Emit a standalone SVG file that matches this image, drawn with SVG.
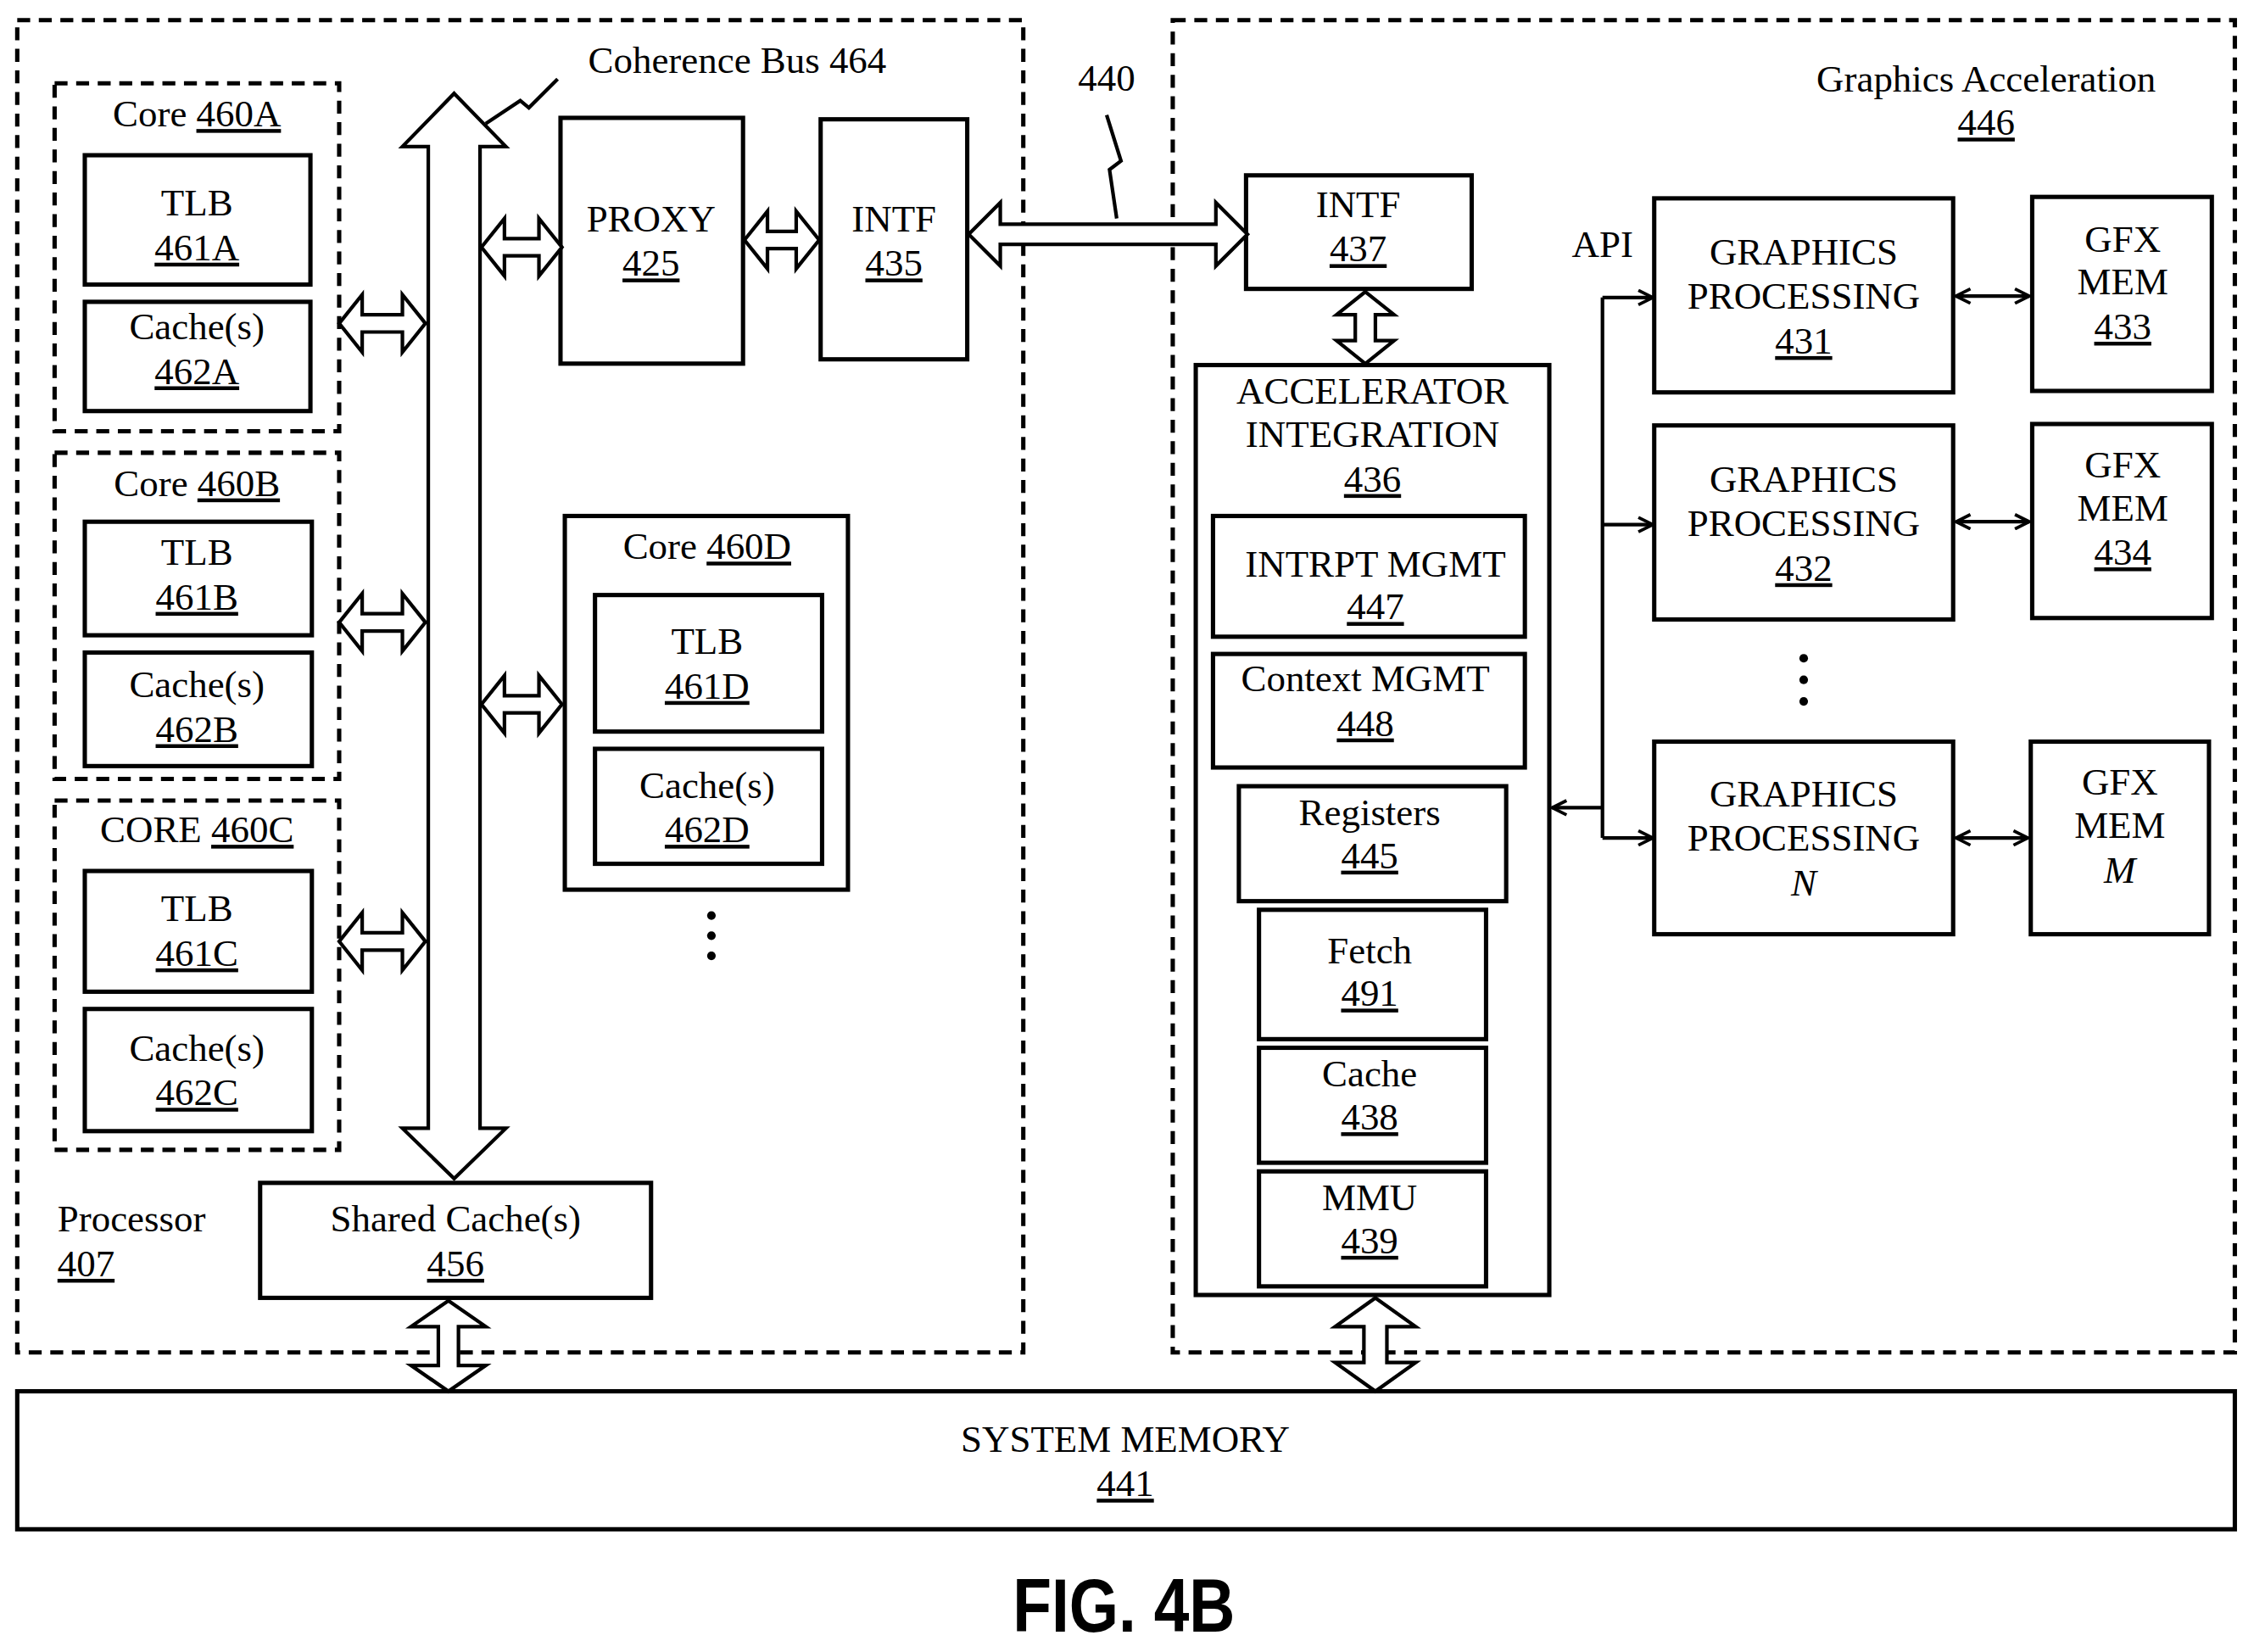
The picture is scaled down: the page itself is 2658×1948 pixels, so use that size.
<svg xmlns="http://www.w3.org/2000/svg" width="2658" height="1948" viewBox="0 0 2658 1948">
<style>
.b{fill:#fff;stroke:#000;stroke-width:3}
.d{fill:none;stroke:#000;stroke-width:3;stroke-dasharray:9,6}
.a{fill:#fff;stroke:#000;stroke-width:2.5;stroke-linejoin:miter}
.l{fill:none;stroke:#000;stroke-width:2.5}
text{font-family:"Liberation Serif",serif;font-size:26.5px;text-anchor:middle;fill:#000}
.u{text-decoration:underline}
</style>
<defs>
<marker id="h" viewBox="0 0 12 12" refX="11" refY="6" markerWidth="12" markerHeight="12" markerUnits="userSpaceOnUse" orient="auto-start-reverse"><path d="M1,1 L11,6 L1,11" fill="none" stroke="#000" stroke-width="2.2"/></marker>
</defs>
<rect width="2658" height="1948" fill="#fff"/>
<g transform="scale(1.6948)">
<g id="processor"><rect class="d" x="12" y="14" width="700" height="927"/><text x="40" y="857" style="text-anchor:start">Processor</text><text x="40" y="888" class="u" style="text-anchor:start">407</text></g>
<g id="graphics"><rect class="d" x="816" y="14" width="739" height="927"/><text x="1382" y="64">Graphics Acceleration</text><text x="1382" y="94" class="u">446</text><text x="1115" y="179">API</text></g>
<g id="sysmem"><rect class="b" x="12" y="968" width="1543" height="96"/><text x="783" y="1010">SYSTEM MEMORY</text><text x="783" y="1041" class="u">441</text></g>
<text x="782" y="1135" style="font-family:'Liberation Sans',sans-serif;font-weight:bold;font-size:52px" transform="translate(782,1135) scale(0.85,1) translate(-782,-1135)">FIG. 4B</text>

<g id="core460A"><rect class="d" x="38" y="58" width="198" height="242"/><text x="137" y="88">Core <tspan class="u">460A</tspan></text>
<rect class="b" x="59" y="108" width="157" height="90"/><text x="137" y="150">TLB</text><text x="137" y="181" class="u">461A</text>
<rect class="b" x="59" y="210" width="157" height="76"/><text x="137" y="236">Cache(s)</text><text x="137" y="267" class="u">462A</text></g>
<g id="core460B"><rect class="d" x="38" y="315" width="198" height="227"/><text x="137" y="345">Core <tspan class="u">460B</tspan></text>
<rect class="b" x="59" y="363" width="158" height="79"/><text x="137" y="393">TLB</text><text x="137" y="424" class="u">461B</text>
<rect class="b" x="59" y="454" width="158" height="79"/><text x="137" y="485">Cache(s)</text><text x="137" y="516" class="u">462B</text></g>
<g id="core460C"><rect class="d" x="38" y="557" width="198" height="243"/><text x="137" y="586">CORE <tspan class="u">460C</tspan></text>
<rect class="b" x="59" y="606" width="158" height="84"/><text x="137" y="641">TLB</text><text x="137" y="672" class="u">461C</text>
<rect class="b" x="59" y="702" width="158" height="85"/><text x="137" y="738">Cache(s)</text><text x="137" y="769" class="u">462C</text></g>
<g id="core460D"><rect class="b" x="393" y="359" width="197" height="260"/><text x="492" y="389">Core <tspan class="u">460D</tspan></text>
<rect class="b" x="414" y="414" width="158" height="95"/><text x="492" y="455">TLB</text><text x="492" y="486" class="u">461D</text>
<rect class="b" x="414" y="521" width="158" height="80"/><text x="492" y="555">Cache(s)</text><text x="492" y="586" class="u">462D</text>
<circle cx="495" cy="637" r="3"/><circle cx="495" cy="651" r="3"/><circle cx="495" cy="665" r="3"/></g>
<g id="proxy"><rect class="b" x="390" y="82" width="127" height="171"/><text x="453" y="161">PROXY</text><text x="453" y="192" class="u">425</text></g>
<g id="intf435"><rect class="b" x="571" y="83" width="102" height="167"/><text x="622" y="161">INTF</text><text x="622" y="192" class="u">435</text></g>
<g id="shared"><rect class="b" x="181" y="823" width="272" height="80"/><text x="317" y="857">Shared Cache(s)</text><text x="317" y="888" class="u">456</text></g>
<g id="intf437"><rect class="b" x="867" y="122" width="157" height="79"/><text x="945" y="151">INTF</text><text x="945" y="182" class="u">437</text></g>
<g id="accel"><rect class="b" x="832" y="254" width="246" height="647"/><text x="955" y="281">ACCELERATOR</text><text x="955" y="311">INTEGRATION</text><text x="955" y="342" class="u">436</text>
<rect class="b" x="844" y="359" width="217" height="84"/><text x="957" y="401">INTRPT MGMT</text><text x="957" y="431" class="u">447</text>
<rect class="b" x="844" y="455" width="217" height="79"/><text x="950" y="481">Context MGMT</text><text x="950" y="512" class="u">448</text>
<rect class="b" x="862" y="547" width="186" height="80"/><text x="953" y="574">Registers</text><text x="953" y="604" class="u">445</text>
<rect class="b" x="876" y="633" width="158" height="90"/><text x="953" y="670">Fetch</text><text x="953" y="700" class="u">491</text>
<rect class="b" x="876" y="729" width="158" height="80"/><text x="953" y="756">Cache</text><text x="953" y="786" class="u">438</text>
<rect class="b" x="876" y="815" width="158" height="80"/><text x="953" y="842">MMU</text><text x="953" y="872" class="u">439</text></g>
<g id="gp431"><rect class="b" x="1151" y="138" width="208" height="135"/><text x="1255" y="184">GRAPHICS</text><text x="1255" y="215">PROCESSING</text><text x="1255" y="246" class="u">431</text></g>
<g id="gp432"><rect class="b" x="1151" y="296" width="208" height="135"/><text x="1255" y="342">GRAPHICS</text><text x="1255" y="373">PROCESSING</text><text x="1255" y="404" class="u">432</text></g>
<g id="gpN"><rect class="b" x="1151" y="516" width="208" height="134"/><text x="1255" y="561">GRAPHICS</text><text x="1255" y="592">PROCESSING</text><text x="1255" y="623" font-style="italic">N</text></g>
<circle cx="1255" cy="458" r="3"/><circle cx="1255" cy="473" r="3"/><circle cx="1255" cy="488" r="3"/>
<g id="mem433"><rect class="b" x="1414" y="137" width="125" height="135"/><text x="1477" y="175">GFX</text><text x="1477" y="205">MEM</text><text x="1477" y="236" class="u">433</text></g>
<g id="mem434"><rect class="b" x="1414" y="295" width="125" height="135"/><text x="1477" y="332">GFX</text><text x="1477" y="362">MEM</text><text x="1477" y="393" class="u">434</text></g>
<g id="memM"><rect class="b" x="1413" y="516" width="124" height="134"/><text x="1475" y="553">GFX</text><text x="1475" y="583">MEM</text><text x="1475" y="614" font-style="italic">M</text></g>

<g id="connectors">
<path class="a" d="M316,65 L352,102 L334,102 L334,785 L352,785 L316,820 L280,785 L298,785 L298,102 L280,102Z"/>
<path class="a" d="M236,225 L252,205 L252,219 L280,219 L280,205 L296,225 L280,245 L280,231 L252,231 L252,245Z"/>
<path class="a" d="M236,433 L252,413 L252,427 L280,427 L280,413 L296,433 L280,453 L280,439 L252,439 L252,453Z"/>
<path class="a" d="M236,655 L252,635 L252,649 L280,649 L280,635 L296,655 L280,675 L280,661 L252,661 L252,675Z"/>
<path class="a" d="M335,172 L351,152 L351,166 L375,166 L375,152 L391,172 L375,192 L375,178 L351,178 L351,192Z"/>
<path class="a" d="M335,490 L351,470 L351,484 L375,484 L375,470 L391,490 L375,510 L375,496 L351,496 L351,510Z"/>
<path class="a" d="M518,167 L534,147 L534,161 L554,161 L554,147 L570,167 L554,187 L554,173 L534,173 L534,187Z"/>
<path class="a" d="M674,163 L696,141 L696,156 L846,156 L846,141 L868,163 L846,185 L846,170 L696,170 L696,185Z"/>
<path class="a" d="M950,203 L970,219 L957,219 L957,237 L970,237 L950,253 L930,237 L943,237 L943,219 L930,219Z"/>
<path class="a" d="M957,903 L985,923 L965,923 L965,948 L985,948 L957,968 L929,948 L949,948 L949,923 L929,923Z"/>
<path class="a" d="M312,905 L338,923 L319,923 L319,950 L338,950 L312,968 L286,950 L305,950 L305,923 L286,923Z"/>
<path class="l" d="M1115,207 V583"/>
<path class="l" marker-end="url(#h)" d="M1115,207 H1150"/>
<path class="l" marker-end="url(#h)" d="M1115,365 H1150"/>
<path class="l" marker-end="url(#h)" d="M1115,583 H1150"/>
<path class="l" marker-end="url(#h)" d="M1115,562 H1080"/>
<path class="l" marker-start="url(#h)" marker-end="url(#h)" d="M1361,206 H1412"/>
<path class="l" marker-start="url(#h)" marker-end="url(#h)" d="M1361,363 H1412"/>
<path class="l" marker-start="url(#h)" marker-end="url(#h)" d="M1361,583 H1411"/>
<path class="l" d="M777,152 L772,118 L780,112 L770,80"/>
<path class="l" d="M338,86 L362,70 L368,75 L388,55"/>
</g>
<text x="513" y="51">Coherence Bus 464</text>
<text x="770" y="63">440</text>
</g>
</svg>
